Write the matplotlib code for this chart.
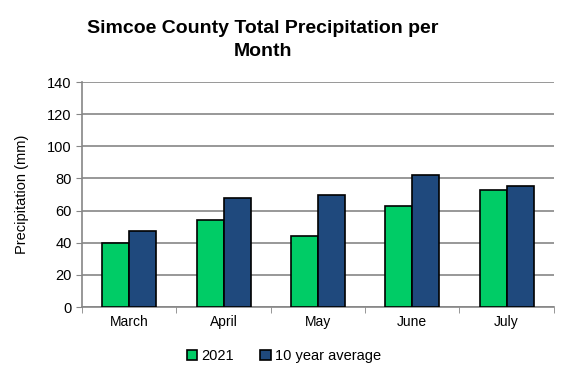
import matplotlib.pyplot as plt
import numpy as np

months = ["March", "April", "May", "June", "July"]
precip_2021 = [40, 54, 44, 63, 73]
precip_avg = [47, 68, 70, 82, 75]
series_names = ["2021", "10 year average"]
y_ticks = [0, 20, 40, 60, 80, 100, 120, 140]

green = "#00cc66"
navy = "#1f497d"
grid_gray = "#868686"

plt.rcParams['font.family'] = ['Liberation Sans', 'DejaVu Sans']

fig = plt.figure(figsize=(5.68, 3.78), dpi=100)
ax = fig.add_axes([0.1444, 0.1878, 0.8306, 0.5952])

x = np.arange(len(months))
w = 0.286
ax.bar(x - w/2, precip_2021, w, color=green, edgecolor="black", linewidth=1.2,
       label=series_names[0], zorder=3)
ax.bar(x + w/2, precip_avg, w, color=navy, edgecolor="black", linewidth=1.2,
       label=series_names[1], zorder=3)

ax.set_xlim(-0.5, len(months) - 0.5)
ax.set_ylim(0, 140)
ax.set_yticks(y_ticks)
ax.tick_params(axis='y', labelsize=10.5, length=4, color=grid_gray)
ax.set_xticks(x)
ax.set_xticklabels(months, fontsize=10)
ax.tick_params(axis='x', length=0, pad=6)
# category boundary ticks
ax.set_xticks(np.arange(-0.5, len(months)), minor=True)
ax.tick_params(axis='x', which='minor', length=4, color=grid_gray)

ax.grid(axis='y', color=grid_gray, linewidth=1.2, zorder=0)
for side in ["top", "right"]:
    ax.spines[side].set_visible(False)
for side in ["left", "bottom"]:
    ax.spines[side].set_color(grid_gray)
    ax.spines[side].set_linewidth(1.2)

ax.set_ylabel("Precipitation (mm)", fontsize=10.5, labelpad=13)

fig.text(0.463, 0.894, "Simcoe County Total Precipitation per\nMonth", ha="center",
         va="center", fontsize=14, fontweight="bold", linespacing=1.45)

fig.legend(loc="center", bbox_to_anchor=(0.5, 0.058), ncol=2, frameon=False,
           fontsize=10.5, handlelength=0.7, handleheight=0.7, handletextpad=0.3,
           columnspacing=1.8)

fig.savefig("out.png", dpi=100)
